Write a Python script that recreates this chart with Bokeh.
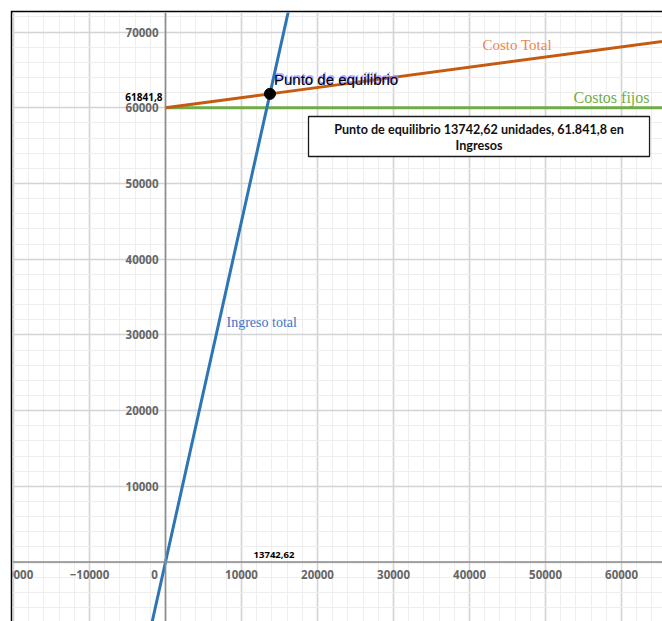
from bokeh.plotting import figure
from bokeh.models import Range1d, Grid, FixedTicker, Span
from bokeh.core.properties import value
from bokeh.embed import file_html
from bokeh.resources import INLINE

# ---------------- data ----------------
x_tick_values = [-20000, -10000, 10000, 20000, 30000, 40000, 50000, 60000]
x_tick_labels = ["\u221220000", "\u221210000", "10000", "20000", "30000", "40000", "50000", "60000"]
y_tick_values = [10000, 20000, 30000, 40000, 50000, 60000, 70000]
y_tick_labels = ["10000", "20000", "30000", "40000", "50000", "60000", "70000"]

major_x = list(range(-30000, 80001, 10000))
minor_x = list(range(-30000, 80001, 2000))
major_y = list(range(-20000, 90001, 10000))
minor_y = list(range(-20000, 90001, 2000))

ingreso_x = [-2000, 0, 13742.62, 17000]
ingreso_y = [-9000, 0, 61841.8, 76500]
costo_total_x = [0, 13742.62, 70000]
costo_total_y = [60000, 61841.8, 69381]
costos_fijos_x = [0, 70000]
costos_fijos_y = [60000, 60000]

equilibrio_x = [13742.62]
equilibrio_y = [61841.8]
equilibrio_x_label = "13742,62"
equilibrio_y_label = "61841,8"
box_line1 = "Punto de equilibrio 13742,62 unidades, 61.841,8 en"
box_line2 = "Ingresos"

# ---------------- figure ----------------
p = figure(width=652, height=611,
           x_range=Range1d(-20130, 65390), y_range=Range1d(-7860, 72590),
           x_axis_type=None, y_axis_type=None,
           output_backend="svg", toolbar_location=None,
           min_border_left=2, min_border_top=2, min_border_right=0, min_border_bottom=0,
           border_fill_color="black", background_fill_color="white",
           outline_line_color=None)
p.margin = (10, 0, 0, 10)

xg = Grid(dimension=0, ticker=FixedTicker(ticks=major_x, minor_ticks=minor_x),
          grid_line_color="#d4d4d4", grid_line_width=1.6,
          minor_grid_line_color="#eeeeee", minor_grid_line_width=1)
yg = Grid(dimension=1, ticker=FixedTicker(ticks=major_y, minor_ticks=minor_y),
          grid_line_color="#d4d4d4", grid_line_width=1.6,
          minor_grid_line_color="#eeeeee", minor_grid_line_width=1)
p.add_layout(xg)
p.add_layout(yg)

p.add_layout(Span(location=0, dimension="height", line_color="#8c8c8c", line_width=1.6))
p.add_layout(Span(location=0, dimension="width", line_color="#8c8c8c", line_width=1.6))

tick_font = value("Open Sans")
tick_kw = dict(text_font=tick_font, text_font_size="11.5px", text_font_style="bold",
               text_color="#666666", text_baseline="middle")
p.text(x=x_tick_values, y=[0] * len(x_tick_values), text=x_tick_labels,
       text_align="center", y_offset=12, **tick_kw)
p.text(x=[0], y=[0], text=["0"], text_align="center", x_offset=-11, y_offset=12, **tick_kw)
p.text(x=[0] * len(y_tick_values), y=y_tick_values, text=y_tick_labels,
       text_align="right", x_offset=-7, **tick_kw)

# lines
p.line(costos_fijos_x, costos_fijos_y, line_color="#70ad47", line_width=3)
p.line(costo_total_x, costo_total_y, line_color="#c55a11", line_width=3)
p.line(ingreso_x, ingreso_y, line_color="#2e75b6", line_width=3)

p.scatter(equilibrio_x, equilibrio_y, size=11, fill_color="black", line_color="black")

# point labels
p.text(x=[0], y=equilibrio_y, text=[equilibrio_y_label], text_font=value("Open Sans"),
       text_font_size="10px", text_font_style="bold", text_color="black",
       text_align="right", text_baseline="middle", x_offset=-3, y_offset=3)
p.text(x=equilibrio_x, y=[0], text=[equilibrio_x_label], text_font=value("Open Sans"),
       text_font_size="9.5px", text_font_style="bold", text_color="black",
       text_align="center", text_baseline="middle", x_offset=4, y_offset=-7)

for dx, dy, col in [(1, -2, "#a0a0ff"), (0, -1, "#8080ff")]:
    p.text(x=equilibrio_x, y=equilibrio_y, text=["Punto de equilibrio"],
           text_font=value("Liberation Sans"), text_font_size="15px", text_color=col,
           text_alpha=0.8, text_align="left", text_baseline="middle",
           x_offset=4 + dx, y_offset=-14 + dy)
p.text(x=equilibrio_x, y=equilibrio_y, text=["Punto de equilibrio"],
       text_font=value("Liberation Sans"), text_font_size="15px", text_color="black",
       text_align="left", text_baseline="middle", x_offset=4, y_offset=-14)

# series labels
serif = value("Liberation Serif")
p.text(x=[41710], y=[68362], text=["Costo Total"], text_font=serif, text_font_size="15px",
       text_color="#ee8549", text_align="left", text_baseline="middle")
p.text(x=[53680], y=[61390], text=["Costos fijos"], text_font=serif, text_font_size="16px",
       text_color="#70ad47", text_align="left", text_baseline="middle")
p.text(x=[8026], y=[31638], text=["Ingreso total"], text_font=serif, text_font_size="14px",
       text_color="#4472c4", text_align="left", text_baseline="middle")

# annotation box
p.quad(left=[18816], right=[63684], top=[58851], bottom=[53567],
       fill_color="white", line_color="#1a1a1a", line_width=1.3)
box_kw = dict(text_font=value("Lato"), text_font_size="12.6px", text_font_style="bold",
              text_color="#111111", text_align="center", text_baseline="middle")
p.text(x=[41250], y=[58851], text=[box_line1], y_offset=13, **box_kw)
p.text(x=[41250], y=[58851], text=[box_line2], y_offset=29, **box_kw)

open("out.html", "w").write(file_html(p, INLINE))
